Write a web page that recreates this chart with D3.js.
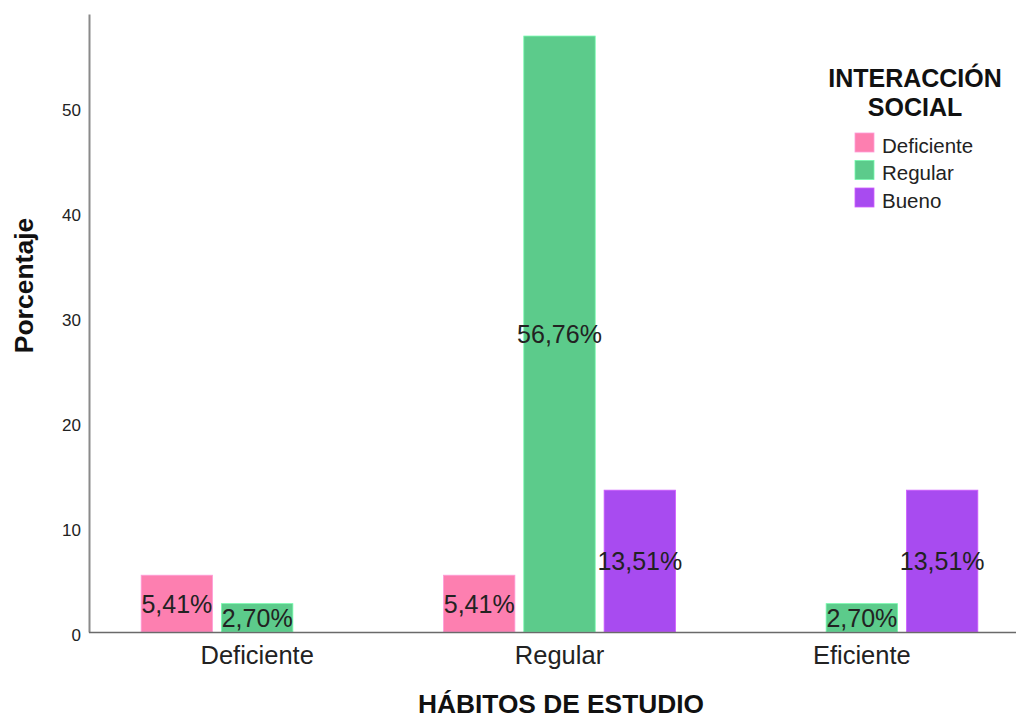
<!DOCTYPE html>
<html>
<head>
<meta charset="utf-8">
<script src="https://cdn.jsdelivr.net/npm/d3@7"></script>
<style>
  html, body { margin: 0; padding: 0; background: #fff; }
  svg { display: block; font-family: Arial, "Liberation Sans", sans-serif; }
</style>
</head>
<body>
<svg id="chart" width="1016" height="721"></svg>
<script>
// ---- data ----
const categories = ["Deficiente", "Regular", "Eficiente"];
const seriesNames = ["Deficiente", "Regular", "Bueno"];
const seriesColors = ["#fd7fb0", "#5ccb8b", "#a84bf0"];
const valuesDeficiente = [5.41, 5.41, 0];
const valuesRegular = [2.70, 56.76, 2.70];
const valuesBueno = [0, 13.51, 13.51];
const yTicks = [0, 10, 20, 30, 40, 50];
const xTitle = "HÁBITOS DE ESTUDIO";
const yTitle = "Porcentaje";
const legendTitle = ["INTERACCIÓN", "SOCIAL"];

const seriesValues = [valuesDeficiente, valuesRegular, valuesBueno];

const svg = d3.select("#chart");

const y = d3.scaleLinear().domain([0, 58.86]).range([632, 14]);
const x0 = d3.scaleBand().domain(categories).range([106, 1013])
  .paddingInner(0.2326).paddingOuter(0.1163);
const x1 = d3.scaleBand().domain(seriesNames).range([0, x0.bandwidth()])
  .paddingInner(0.111).paddingOuter(0);
const color = d3.scaleOrdinal().domain(seriesNames).range(seriesColors);

// bars
const rows = [];
categories.forEach((c, ci) => {
  seriesNames.forEach((s, si) => {
    rows.push({ cat: c, series: s, value: seriesValues[si][ci] });
  });
});
const barRows = rows.filter(d => d.value > 0);

svg.append("g").selectAll("rect").data(barRows).join("rect")
  .attr("x", d => x0(d.cat) + x1(d.series))
  .attr("y", d => y(d.value))
  .attr("width", x1.bandwidth())
  .attr("height", d => y(0) - y(d.value))
  .attr("fill", d => color(d.series))
  .attr("stroke", d => d3.color(color(d.series)).brighter(0.6))
  .attr("stroke-width", 0.8);

// axes
const yAxis = d3.axisLeft(y).tickValues(yTicks).tickSize(0).tickPadding(8);
const gy = svg.append("g").attr("transform", "translate(89,0)").call(yAxis);
gy.select(".domain").attr("stroke", "#8a8a8a").attr("stroke-width", 2);
gy.selectAll("text").attr("font-size", 17).attr("fill", "#222")
  .attr("font-family", "Arial, 'Liberation Sans', sans-serif")
  .attr("dy", "0.5em");

const xAxis = d3.axisBottom(x0).tickSize(0).tickPadding(14);
const gx = svg.append("g").attr("transform", "translate(0,632)").call(xAxis);
gx.select(".domain").attr("d", "M89,0.5H1016").attr("stroke", "#6a6a6a").attr("stroke-width", 1.6);
gx.selectAll("text").attr("font-size", 25.5).attr("fill", "#222")
  .attr("font-family", "Arial, 'Liberation Sans', sans-serif")
  .attr("dy", "0.72em");

// value labels
svg.append("g").selectAll("text").data(barRows).join("text")
  .attr("x", d => x0(d.cat) + x1(d.series) + x1.bandwidth() / 2)
  .attr("y", d => (y(d.value) + y(0)) / 2)
  .attr("dy", "0.36em")
  .attr("text-anchor", "middle")
  .attr("font-size", 25)
  .attr("fill", "#222")
  .text(d => d.value.toFixed(2).replace(".", ",") + "%");

// axis titles
svg.append("text")
  .attr("x", 561).attr("y", 713)
  .attr("text-anchor", "middle")
  .attr("font-size", 26.3).attr("font-weight", "bold").attr("fill", "#111")
  .text(xTitle);

svg.append("text")
  .attr("transform", "translate(33,285.5) rotate(-90)")
  .attr("text-anchor", "middle")
  .attr("font-size", 26.5).attr("font-weight", "bold").attr("fill", "#111")
  .text(yTitle);

// legend
const lg = svg.append("g");
lg.selectAll("text.lt").data(legendTitle).join("text")
  .attr("class", "lt")
  .attr("x", 915).attr("y", (d, i) => 87 + i * 29)
  .attr("text-anchor", "middle")
  .attr("font-size", 25).attr("font-weight", "bold").attr("fill", "#111")
  .text(d => d);

const items = lg.selectAll("g.item").data(seriesNames).join("g")
  .attr("class", "item")
  .attr("transform", (d, i) => `translate(855,${133 + i * 27.5})`);
items.append("rect")
  .attr("width", 19).attr("height", 19)
  .attr("fill", d => color(d))
  .attr("stroke", d => d3.color(color(d)).brighter(0.6))
  .attr("stroke-width", 0.8);
items.append("text")
  .attr("x", 27).attr("y", 19.5)
  .attr("font-size", 20.5).attr("fill", "#222")
  .text(d => d);
</script>
</body>
</html>
